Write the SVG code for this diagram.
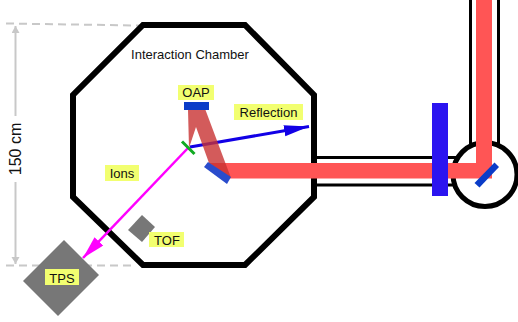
<svg xmlns="http://www.w3.org/2000/svg" width="518" height="322" viewBox="0 0 518 322">
<style>
text{font-family:"Liberation Sans",Arial,sans-serif;font-size:13px;fill:#111;text-anchor:middle}
.lab{fill:#f2ff70}
.pipe{fill:none;stroke:#000;stroke-width:3}
.dim{fill:none;stroke:#c8c8c8;stroke-width:2}
.dash{stroke-dasharray:8 5}
.gray{fill:#777}
.mir{fill:#0a3cc8}
</style>
<defs>
<marker id="ag" markerUnits="userSpaceOnUse" markerWidth="8" markerHeight="10" refX="7" refY="4" orient="auto"><path d="M0,0L7,4L0,8Z" fill="#c8c8c8"/></marker>
<marker id="ab" markerUnits="userSpaceOnUse" markerWidth="26" markerHeight="12" refX="25" refY="5.5" orient="auto"><path d="M0,0L25,5.5L0,11Z" fill="#1200e6"/></marker>
<marker id="am" markerUnits="userSpaceOnUse" markerWidth="24" markerHeight="14" refX="23" refY="6" orient="auto"><path d="M0,0L23,6L0,12Z" fill="#ff00ff"/></marker>
</defs>
<g id="dimension">
<path class="dim dash" d="M6,23.5L139,25.5M6,265.5L134,265.5"/>
<path class="dim" d="M15.5,116V26" marker-end="url(#ag)"/>
<path class="dim" d="M15.5,182V264" marker-end="url(#ag)"/>
<text transform="translate(20.500,149) rotate(-90)" style="font-size:16px">150 cm</text>
</g>
<g id="pipes">
<path class="pipe" d="M314,157.5H456M314,185H456M470.5,0V146M498.5,0V146"/>
</g>
<g id="chamber">
<path d="M143,25H245L314,95V197L245,265H143L73,197V95Z" fill="none" stroke="#000" stroke-width="6"/>
<text x="190" y="59">Interaction Chamber</text>
</g>
<g id="tps"><path class="gray" d="M64,240L99,275L58,316L23,281Z"/><rect class="lab" x="45" y="269" width="34" height="16"/><text x="62" y="283">TPS</text></g>
<g id="tof"><path class="gray" d="M142,215L155,227L142,242L128,230Z"/><rect class="lab" x="149" y="232" width="35" height="15"/><text x="167" y="245">TOF</text></g>
<g id="turning-chamber"><circle cx="485" cy="174.500" r="32" fill="#fff" stroke="#000" stroke-width="5"/></g>
<g id="connectors">
<path d="M190,147L309,126.500" fill="none" stroke="#1200e6" stroke-width="3" marker-end="url(#ab)"/>
<path d="M188,148L83,258" fill="none" stroke="#ff00ff" stroke-width="2.500" marker-end="url(#am)"/>
</g>
<g id="beam">
<path d="M209,163H476V0H492V178.500H230Z" fill="#ff5555"/>
<path d="M188,110H205.500L231,178L209,163L196,127L189,148Z" fill="#c83232" fill-opacity=".8"/>
</g>
<g id="window"><rect x="432" y="103" width="16" height="93" fill="#2b14f0"/></g>
<g id="turning-mirror"><path class="mir" d="M494.500,162.500L499,167L479.500,187.500L474.500,183Z"/></g>
<g id="focus-mirror"><path d="M208,162L231,177L227,184L204,167Z" fill="#2a4ccc"/></g>
<g id="oap"><rect class="mir" x="184" y="102" width="25" height="8"/><rect class="lab" x="178" y="85" width="36" height="15"/><text x="196" y="97">OAP</text></g>
<g id="target"><path d="M182,141.500L194.500,154" stroke="#11aa22" stroke-width="3" fill="none"/></g>
<g id="reflection"><rect class="lab" x="234" y="104" width="69" height="16"/><text x="268.500" y="117">Reflection</text></g>
<g id="ions"><rect class="lab" x="105" y="165" width="34" height="16"/><text x="122" y="178">Ions</text></g>
</svg>
